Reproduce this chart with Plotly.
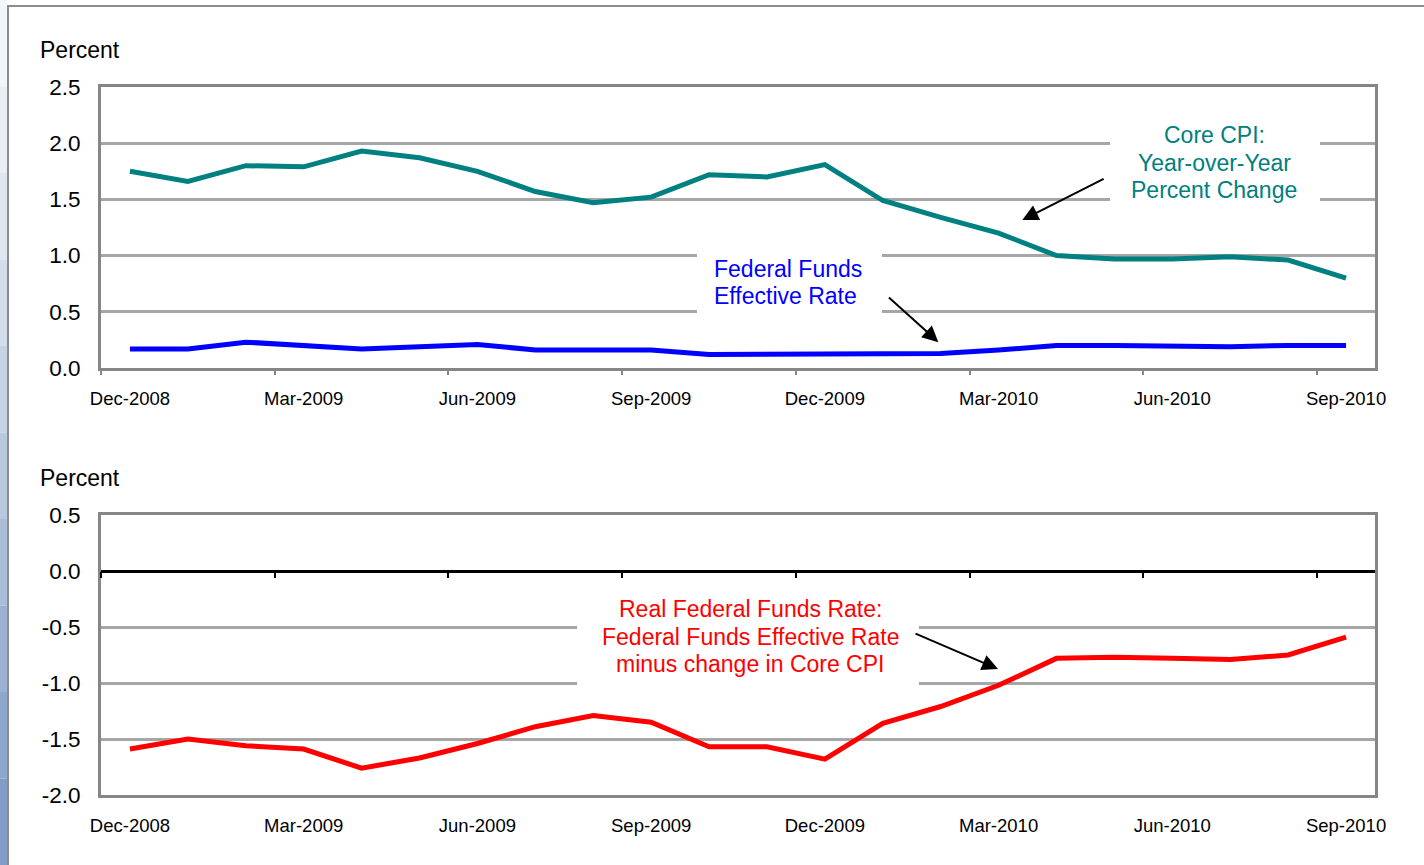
import plotly.graph_objects as go

months = ["Dec-2008", "Jan-2009", "Feb-2009", "Mar-2009", "Apr-2009", "May-2009", "Jun-2009",
          "Jul-2009", "Aug-2009", "Sep-2009", "Oct-2009", "Nov-2009", "Dec-2009", "Jan-2010",
          "Feb-2010", "Mar-2010", "Apr-2010", "May-2010", "Jun-2010", "Jul-2010", "Aug-2010",
          "Sep-2010"]
core_cpi = [1.75, 1.66, 1.80, 1.79, 1.93, 1.87, 1.75, 1.57, 1.47, 1.52, 1.72, 1.70, 1.81,
            1.49, 1.34, 1.20, 1.00, 0.97, 0.97, 0.99, 0.96, 0.80]
fed_funds = [0.17, 0.17, 0.23, 0.20, 0.17, 0.19, 0.21, 0.16, 0.16, 0.16, 0.12, 0.12, 0.12,
             0.12, 0.13, 0.16, 0.20, 0.20, 0.19, 0.19, 0.20, 0.20]
real_ff = [-1.59, -1.50, -1.56, -1.59, -1.76, -1.67, -1.54, -1.39, -1.29, -1.35, -1.57, -1.57,
           -1.68, -1.36, -1.21, -1.02, -0.78, -0.77, -0.78, -0.79, -0.75, -0.59]

cpi_label = ["Core CPI:", "Year-over-Year", "Percent Change"]
ff_label = ["Federal Funds", "Effective Rate"]
real_label = ["Real Federal Funds Rate:", "Federal Funds Effective Rate", "minus change in Core CPI"]

W, H = 1424, 865
idx = list(range(len(months)))
label_pos = idx[::3]
label_txt = months[::3]
tick_bounds = [i - 0.5 for i in label_pos]

FONT = "Liberation Sans, Arial, sans-serif"
GRID = "#A6A6A6"
BORDER = "#868686"
TEAL = "#008080"
LW = 5

def px_x(p):
    return p / W

def px_y(p):
    return 1 - p / H

fig = go.Figure()
fig.add_trace(go.Scatter(x=idx, y=core_cpi, mode="lines", line=dict(color=TEAL, width=LW),
                         xaxis="x", yaxis="y", hoverinfo="skip"))
fig.add_trace(go.Scatter(x=idx, y=fed_funds, mode="lines", line=dict(color="#0000FF", width=LW),
                         xaxis="x", yaxis="y", hoverinfo="skip"))
fig.add_trace(go.Scatter(x=idx, y=real_ff, mode="lines", line=dict(color="#FF0000", width=LW),
                         xaxis="x2", yaxis="y2", hoverinfo="skip"))
# invisible traces to host tick-only axes
fig.add_trace(go.Scatter(x=[None], y=[None], xaxis="x3", yaxis="y", hoverinfo="skip"))
fig.add_trace(go.Scatter(x=[None], y=[None], xaxis="x4", yaxis="y2", hoverinfo="skip"))

xdom = [px_x(101), px_x(1375)]
top_dom = [px_y(368), px_y(87)]
bot_dom = [px_y(795), px_y(515)]
zero_pos = px_y(571)

common_x = dict(range=[-0.5, 21.5], tickmode="array", tickvals=label_pos, ticktext=label_txt,
                ticks="", showgrid=False, zeroline=False, showline=True, mirror=True,
                linecolor=BORDER, linewidth=3, ticklabelstandoff=12, automargin=False,
                tickfont=dict(family=FONT, size=18.5, color="#000000"), domain=xdom)
tick_x = dict(range=[-0.5, 21.5], tickmode="array", tickvals=tick_bounds, ticks="outside",
              ticklen=6, tickwidth=2, showticklabels=False, showgrid=False, zeroline=False,
              showline=False, domain=xdom, automargin=False)

fig.update_layout(
    template="none",
    width=W, height=H, margin=dict(l=0, r=0, t=0, b=0, pad=0, autoexpand=False),
    paper_bgcolor="white", plot_bgcolor="white", showlegend=False,
    xaxis=dict(anchor="y", **common_x),
    xaxis2=dict(anchor="y2", **common_x),
    xaxis3=dict(anchor="y", overlaying="x", tickcolor=BORDER, **tick_x),
    xaxis4=dict(anchor="free", position=zero_pos, overlaying="x2", tickcolor="#000000", **tick_x),
    yaxis=dict(domain=top_dom, range=[0, 2.5], tickmode="array", tickvals=[0, 0.5, 1, 1.5, 2, 2.5],
               ticktext=["0.0", "0.5", "1.0", "1.5", "2.0", "2.5"], ticks="", showgrid=True,
               gridcolor=GRID, gridwidth=2.5, zeroline=False, showline=True, mirror=True,
               linecolor=BORDER, linewidth=3, ticklabelstandoff=13, automargin=False,
               tickfont=dict(family=FONT, size=22.5, color="#000000")),
    yaxis2=dict(domain=bot_dom, range=[-2.0, 0.5], tickmode="array",
                tickvals=[-2, -1.5, -1, -0.5, 0, 0.5],
                ticktext=["-2.0", "-1.5", "-1.0", "-0.5", "0.0", "0.5"], ticks="", showgrid=True,
                gridcolor=GRID, gridwidth=2.5, zeroline=True, zerolinecolor="#000000",
                zerolinewidth=3, showline=True, mirror=True, linecolor=BORDER, linewidth=3,
                ticklabelstandoff=13, automargin=False,
                tickfont=dict(family=FONT, size=22.5, color="#000000")),
)

# Slide frame, left gradient strip, white label boxes
shapes = []
grad = ["#f3f5f9", "#e9eef5", "#dfe6f0", "#d3ddeb", "#c6d3e5", "#b8c8df", "#a9bcd8",
        "#9bb1d2", "#8ea7cc", "#829dc7"]
n = len(grad)
for i, c in enumerate(grad):
    shapes.append(dict(type="rect", xref="paper", yref="paper", x0=0, x1=px_x(7),
                       y0=1 - (i + 1) / n, y1=1 - i / n, fillcolor=c, line=dict(width=0),
                       layer="below"))
shapes.append(dict(type="rect", xref="paper", yref="paper", x0=px_x(8), x1=1.01,
                   y0=-0.01, y1=px_y(6), line=dict(color="#8c8c8c", width=2),
                   fillcolor="rgba(0,0,0,0)", layer="below"))
for (x0, x1, y0, y1) in [(1110, 1320, 112, 214), (697, 882, 246, 324), (577, 919, 592, 696)]:
    shapes.append(dict(type="rect", xref="paper", yref="paper", x0=px_x(x0), x1=px_x(x1),
                       y0=px_y(y1), y1=px_y(y0), fillcolor="white", line=dict(width=0),
                       layer="above"))
fig.update_layout(shapes=shapes)

ann = []
for yy in (50, 478):
    ann.append(dict(text="Percent", xref="paper", yref="paper", x=px_x(38), y=px_y(yy),
                    xanchor="left", yanchor="middle", showarrow=False,
                    font=dict(family=FONT, size=23, color="#000000")))

def add_lines(lines, xs, ys, anchor, color):
    for t, yy in zip(lines, ys):
        ann.append(dict(text=t, xref="paper", yref="paper", x=px_x(xs), y=px_y(yy),
                        xanchor=anchor, yanchor="middle", showarrow=False,
                        font=dict(family=FONT, size=23, color=color)))

add_lines(cpi_label, 1214, [135, 162.5, 190], "center", TEAL)
add_lines(ff_label, 712, [269, 296], "left", "#0000FF")
add_lines(real_label, 750, [609, 636.5, 664], "center", "#FF0000")

# arrows
arrow_style = dict(text="", showarrow=True, arrowhead=2, arrowsize=1.6, arrowwidth=2,
                   arrowcolor="#000000")
ann.append(dict(xref="x", yref="y", axref="x", ayref="y", x=15.41, y=1.317,
                ax=16.84, ay=1.69, **arrow_style))
ann.append(dict(xref="x", yref="y", axref="x", ayref="y", x=13.96, y=0.23,
                ax=13.08, ay=0.64, **arrow_style))
ann.append(dict(xref="x2", yref="y2", axref="x2", ayref="y2", x=14.99, y=-0.875,
                ax=13.54, ay=-0.553, **arrow_style))
fig.update_layout(annotations=ann)

fig.write_html("out.html", config={"displayModeBar": False},
               post_script="document.body.style.margin='0';document.body.style.overflow='hidden';")
